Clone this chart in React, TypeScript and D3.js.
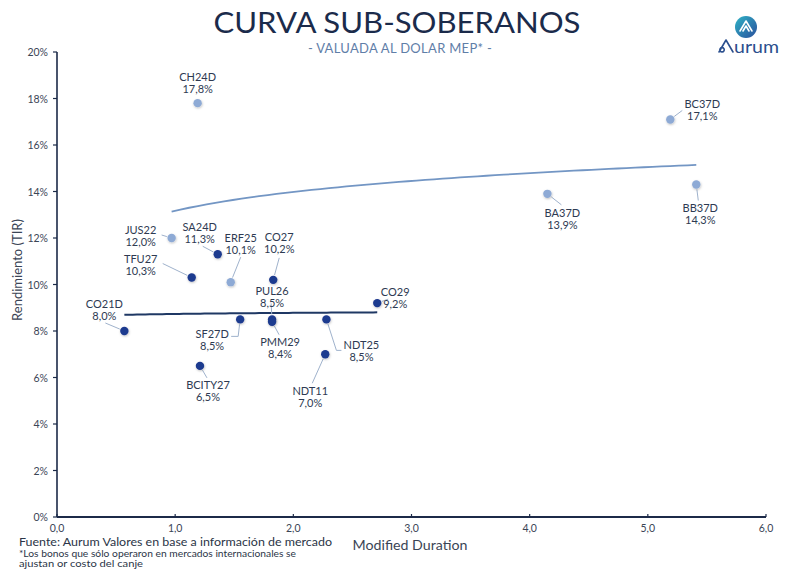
import React from "react";
import * as d3 from "d3";

const names = ["CH24D","BC37D","BA37D","BB37D","JUS22","ERF25","TFU27","SA24D","CO27","CO21D","PUL26","PMM29","SF27D","NDT25","NDT11","BCITY27","CO29"];
const duration = [1.19,5.19,4.15,5.41,0.97,1.47,1.14,1.36,1.83,0.57,1.82,1.82,1.55,2.28,2.27,1.21,2.71];
const yields = [17.8,17.1,13.9,14.3,12.0,10.1,10.3,11.3,10.2,8.0,8.5,8.4,8.5,8.5,7.0,6.5,9.2];
const group = ["int","int","int","int","int","int","loc","loc","loc","loc","loc","loc","loc","loc","loc","loc","loc"];

const xTicks = [0,1,2,3,4,5,6];
const yTicks = [0,2,4,6,8,10,12,14,16,18,20];

// label layout: [dx, dy] of label center/first baseline relative to the point, leader end relative to point (null = none)
const labelLayout: Record<string, { d: [number, number]; l: [number, number][] | null }> = {
  CH24D: { d: [0, -22], l: null },
  BC37D: { d: [32, -11], l: [[12, -9]] },
  BA37D: { d: [15, 23], l: [[14, 11]] },
  BB37D: { d: [4, 27], l: [[2, 16]] },
  JUS22: { d: [-31, -4], l: [[-10, -3]] },
  SA24D: { d: [-18, -23], l: [[-15, -8]] },
  ERF25: { d: [10, -40], l: [[10, -25]] },
  CO27: { d: [6, -39], l: [[6, -22]] },
  TFU27: { d: [-51, -15], l: [[-29, -14]] },
  CO21D: { d: [-20, -23], l: [[-19, -8]] },
  PUL26: { d: [0, -24], l: [[-1, -16]] },
  PMM29: { d: [8, 24], l: [[7, 13]] },
  SF27D: { d: [-28, 19], l: [[-2, 17], [-9, 17]] },
  NDT25: { d: [35, 30], l: [[10, 31], [15, 31]] },
  NDT11: { d: [-15, 41], l: [[-13, 29]] },
  BCITY27: { d: [8, 23], l: [[7, 12]] },
  CO29: { d: [18, -7], l: [[11, -4]] },
};

const W = 792, H = 577;
const FONT = "Lato, 'Noto Sans', sans-serif";

function logFit(xs: number[], ys: number[]) {
  const lx = xs.map(Math.log);
  const mx = d3.mean(lx)!, my = d3.mean(ys)!;
  let sxy = 0, sxx = 0;
  lx.forEach((v, i) => { sxy += (v - mx) * (ys[i] - my); sxx += (v - mx) ** 2; });
  const b = sxy / sxx;
  const a = my - b * mx;
  return (x: number) => a + b * Math.log(x);
}

export default function App() {
  const x = d3.scaleLinear().domain([0, 6]).range([57, 766]);
  const y = d3.scaleLinear().domain([0, 20]).range([517, 52]);
  const fmtLbl = (v: number) => d3.format(".1f")(v).replace(".", ",") + "%";

  const pts = names.map((n, i) => ({ n, d: duration[i], y: yields[i], g: group[i] }));
  const trend = (g: string) => {
    const s = pts.filter(p => p.g === g);
    const f = logFit(s.map(p => p.d), s.map(p => p.y));
    const [lo, hi] = d3.extent(s, p => p.d) as [number, number];
    const xs = d3.range(0, 61).map(k => lo + (hi - lo) * k / 60);
    return d3.line<number>().x(v => x(v)).y(v => y(f(v)))(xs) || "";
  };

  const navy = "#1c2a48";
  const dark = "#1e3a8f";
  const light = "#8eaad5";

  return (
    <svg width={W} height={H} style={{ position: "absolute", left: 0, top: 0, background: "#fff" }} fontFamily={FONT}>
      <defs>
        <linearGradient id="logoG" x1="0" y1="0" x2="1" y2="1">
          <stop offset="0%" stopColor="#2fb3c6" />
          <stop offset="100%" stopColor="#2a4f9c" />
        </linearGradient>
        <filter id="sh" x="-50%" y="-50%" width="200%" height="200%">
          <feDropShadow dx="0.5" dy="1" stdDeviation="1" floodColor="#000" floodOpacity="0.25" />
        </filter>
      </defs>
      {/* Title */}
      <text x={397} y={33} textAnchor="middle" fontSize={28} fill="#1b2b4b" textLength={367} lengthAdjust="spacingAndGlyphs">CURVA SUB-SOBERANOS</text>
      <text x={400} y={53} textAnchor="middle" fontSize={13} fill="#5f7ea8" letterSpacing={0.3}>- VALUADA AL DOLAR MEP* -</text>
      {/* Logo */}
      <circle cx={746} cy={27} r={11} fill="url(#logoG)" />
      <path d="M740,31 L746,21 L752,31 M743,31 L746,26 L749,31" fill="none" stroke="#fff" strokeWidth={1.6} strokeLinejoin="round" strokeLinecap="round" />
      <path d="M719,52 L726,40 L733,52 M722,52 a2.2,2.2 0 1 1 0.1,0" fill="none" stroke="#2b4f8e" strokeWidth={1.6} strokeLinejoin="round" strokeLinecap="round" />
      <text x={734} y={53} fontSize={17} fill="#2b4f8e" textLength={45} lengthAdjust="spacingAndGlyphs">urum</text>

      {/* Axes */}
      <line x1={57} x2={57} y1={52} y2={517} stroke={navy} strokeWidth={1.6} />
      <line x1={57} x2={766} y1={517} y2={517} stroke={navy} strokeWidth={1.8} />
      {yTicks.map(t => (
        <g key={"y" + t}>
          <line x1={53} x2={57} y1={y(t)} y2={y(t)} stroke={navy} strokeWidth={1.2} />
          <text x={48} y={y(t) + 4} textAnchor="end" fontSize={10.5} fill="#3b4556">{t}%</text>
        </g>
      ))}
      {xTicks.map(t => (
        <g key={"x" + t}>
          <line x1={x(t)} x2={x(t)} y1={514} y2={517} stroke={navy} strokeWidth={1.2} />
          <text x={x(t)} y={532} textAnchor="middle" fontSize={10.5} fill="#3b4556">{d3.format(".1f")(t).replace(".", ",")}</text>
        </g>
      ))}
      <text transform="translate(22,270) rotate(-90)" textAnchor="middle" fontSize={13} fill="#3b4556">Rendimiento (TIR)</text>
      <text x={410} y={550} textAnchor="middle" fontSize={13} fill="#3b4556" textLength={115} lengthAdjust="spacingAndGlyphs">Modified Duration</text>

      {/* Footer */}
      <text x={19} y={546} fontSize={12} fill="#2b3547" textLength={313} lengthAdjust="spacingAndGlyphs">Fuente: Aurum Valores en base a información de mercado</text>
      <text x={19} y={557} fontSize={9.5} fill="#2b3547" textLength={277} lengthAdjust="spacingAndGlyphs">*Los bonos que sólo operaron en mercados internacionales se</text>
      <text x={19} y={567} fontSize={9.5} fill="#2b3547" textLength={124} lengthAdjust="spacingAndGlyphs">ajustan or costo del canje</text>

      {/* Trend lines */}
      <path d={trend("int")} fill="none" stroke="#7396c4" strokeWidth={1.8} />
      <path d={trend("loc")} fill="none" stroke="#1f3864" strokeWidth={2} />

      {/* Leaders */}
      {pts.map(p => {
        const L = labelLayout[p.n];
        if (!L.l) return null;
        const px = x(p.d), py = y(p.y);
        const first = L.l[0];
        const ang = Math.atan2(first[1], first[0]);
        const sx = px + Math.cos(ang) * 5, sy = py + Math.sin(ang) * 5;
        const dpath = `M${sx},${sy}` + L.l.map(q => `L${px + q[0]},${py + q[1]}`).join("");
        return <path key={"l" + p.n} d={dpath} fill="none" stroke="#9fb2cc" strokeWidth={1} />;
      })}

      {/* Points */}
      {pts.map(p => (
        <circle key={"c" + p.n} cx={x(p.d)} cy={y(p.y)} r={4.2} fill={p.g === "int" ? light : dark} filter="url(#sh)" />
      ))}

      {/* Labels */}
      {pts.map(p => {
        const L = labelLayout[p.n];
        const lx = x(p.d) + L.d[0], ly = y(p.y) + L.d[1];
        return (
          <text key={"t" + p.n} textAnchor="middle" fontSize={11} fill="#2e3a52">
            <tspan x={lx} y={ly}>{p.n}</tspan>
            <tspan x={lx} y={ly + 12}>{fmtLbl(p.y)}</tspan>
          </text>
        );
      })}
    </svg>
  );
}
